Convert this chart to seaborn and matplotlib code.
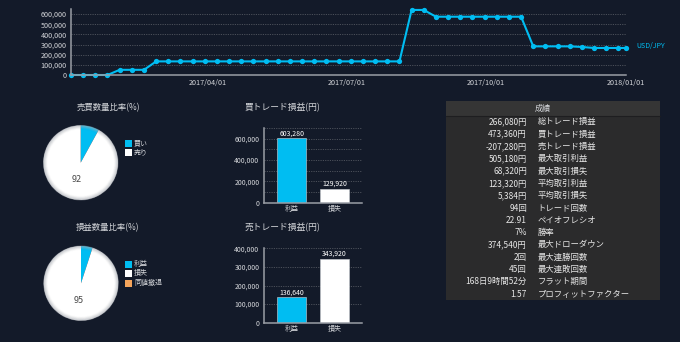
import numpy as np
import pandas as pd
import matplotlib
matplotlib.use('Agg')
import matplotlib.pyplot as plt
import matplotlib.dates as mdates
from matplotlib.ticker import FuncFormatter
from matplotlib.patches import Rectangle, Circle
import seaborn as sns

# ---------------- data ----------------
dates = ['2017-01-01', '2017-01-09', '2017-01-17', '2017-01-25', '2017-02-02', '2017-02-10',
         '2017-02-18', '2017-02-26', '2017-03-06', '2017-03-14', '2017-03-22', '2017-03-30',
         '2017-04-07', '2017-04-15', '2017-04-23', '2017-05-01', '2017-05-09', '2017-05-17',
         '2017-05-25', '2017-06-02', '2017-06-10', '2017-06-18', '2017-06-26', '2017-07-04',
         '2017-07-12', '2017-07-20', '2017-07-28', '2017-08-05', '2017-08-13', '2017-08-21',
         '2017-08-29', '2017-09-06', '2017-09-14', '2017-09-22', '2017-09-30', '2017-10-08',
         '2017-10-16', '2017-10-24', '2017-11-01', '2017-11-09', '2017-11-17', '2017-11-25',
         '2017-12-03', '2017-12-11', '2017-12-19', '2017-12-27', '2018-01-01']
equity = [0, 0, 0, 0, 51000, 51000, 51000,
          134000, 134000, 134000, 134000, 134000, 134000, 134000, 134000, 134000, 134000,
          134000, 134000, 134000, 134000, 134000, 134000, 134000, 134000, 134000, 134000, 134000,
          640620, 640620,
          574000, 574000, 574000, 574000, 574000, 574000, 574000, 574000,
          282000, 282000, 282000, 282000, 276000,
          266000, 266000, 266000, 266080]
series_name = 'USD/JPY'
date_ticks = ['2017-04-01', '2017-07-01', '2017-10-01', '2018-01-01']

pie1_title = '売買数量比率(%)'
pie1_labels = ['買い', '売り']
pie1_values = [8, 92]
pie2_title = '損益数量比率(%)'
pie2_labels = ['利益', '損失', '同値撤退']
pie2_values = [5, 95, 0]

bar_categories = ['利益', '損失']
bar1_title = '買トレード損益(円)'
bar1_values = [603280, 129920]
bar2_title = '売トレード損益(円)'
bar2_values = [136640, 343920]

table_header = '成績'
table_values = ['266,080円', '473,360円', '-207,280円', '505,180円', '68,320円', '123,320円',
                '5,384円', '94回', '22.91', '7%', '374,540円', '2回', '45回',
                '168日9時間52分', '1.57']
table_labels = ['総トレード損益', '買トレード損益', '売トレード損益', '最大取引利益', '最大取引損失',
                '平均取引利益', '平均取引損失', 'トレード回数', 'ペイオフレシオ', '勝率',
                '最大ドローダウン', '最大連勝回数', '最大連敗回数', 'フラット期間',
                'プロフィットファクター']

# ---------------- style ----------------
BG = '#131a29'
CYAN = '#00bdf2'
ORANGE = '#f5a55c'
AXC = '#9a9ea6'
TXT = '#d4d6da'
GRID = '#4b505a'

sns.set_theme(style='dark')
plt.rcParams['font.family'] = ['Noto Sans CJK JP', 'DejaVu Sans']
plt.rcParams['axes.unicode_minus'] = False

W, H = 680, 342
fig = plt.figure(figsize=(W / 100, H / 100), dpi=100, facecolor=BG)


def fx(px):
    return px / W


def fy(py):
    return 1 - py / H


def rect(l, t, r, b):
    return [fx(l), fy(b), fx(r) - fx(l), fy(t) - fy(b)]


comma = FuncFormatter(lambda v, p: f'{v:,.0f}')


def style_axes(ax):
    ax.set_facecolor(BG)
    for s in ['top', 'right']:
        ax.spines[s].set_visible(False)
    for s in ['left', 'bottom']:
        ax.spines[s].set_color(AXC)
        ax.spines[s].set_linewidth(1.1)
    ax.set_xlabel('')
    ax.set_ylabel('')


# ---------------- top line chart ----------------
ax = fig.add_axes(rect(71, 9, 626, 75))
style_axes(ax)
df_line = pd.DataFrame({'date': pd.to_datetime(dates), 'equity': equity})
sns.lineplot(data=df_line, x='date', y='equity', ax=ax, color=CYAN, linewidth=1.5,
             marker='o', markersize=3.8, markeredgewidth=0, clip_on=False)
ax.set_xlim(pd.Timestamp('2017-01-01'), pd.Timestamp('2018-01-01'))
ax.set_ylim(0, 650000)
ax.set_yticks(np.arange(0, 600001, 100000))
ax.yaxis.set_major_formatter(comma)
ax.set_xticks(pd.to_datetime(date_ticks))
ax.xaxis.set_major_formatter(mdates.DateFormatter('%Y/%m/%d'))
ax.tick_params(axis='y', colors=TXT, labelsize=5.2, length=0, pad=3)
ax.tick_params(axis='x', colors=TXT, labelsize=5.2, length=2.5, direction='in', pad=3, color=AXC)
ax.grid(False)
for v in np.arange(100000, 600001, 100000):
    ax.axhline(v, color=GRID, lw=0.7, ls=(0, (1.2, 1.2)), zorder=0)
ax.set_xlabel('')
ax.set_ylabel('')
fig.text(fx(636), fy(46), series_name, color=CYAN, fontsize=5, ha='left', va='center')


# ---------------- pies ----------------
def pie_panel(cx, cy, r, title, labels, values, colors, title_y, leg_y):
    axp = fig.add_axes(rect(cx - r, cy - r, cx + r, cy + r))
    axp.set_facecolor(BG)
    axp.pie(values, colors=colors, startangle=90, counterclock=False, radius=1,
            autopct=lambda p: f'{p:.0f}' if p > 50 else '', pctdistance=0.47,
            wedgeprops=dict(linewidth=0), textprops=dict(color='#4a4a4a', fontsize=6.5))
    n = 12
    for i in range(n):
        rr = 1 - i * 0.009
        axp.add_patch(Circle((0, 0), rr, fill=False, edgecolor='#a9adb4',
                             alpha=0.28 * (1 - i / n) ** 1.5, lw=0.8))
    axp.set_xlim(-1.02, 1.02)
    axp.set_ylim(-1.02, 1.02)
    axp.set_aspect('equal')
    axp.axis('off')
    fig.text(fx(108), fy(title_y), title, color=TXT, fontsize=6, ha='center', va='center')
    for i, (lab, col) in enumerate(zip(labels, colors)):
        y = leg_y + i * 9.5
        fig.patches.append(Rectangle((fx(125), fy(y + 3.5)), fx(7), 7 / H,
                                     transform=fig.transFigure, facecolor=col,
                                     edgecolor='none'))
        fig.text(fx(134), fy(y), lab, color=TXT, fontsize=5, ha='left', va='center')


pie_panel(80.7, 162.7, 38, pie1_title, pie1_labels, pie1_values, [CYAN, 'white'], 108, 143)
pie_panel(81, 283.3, 38, pie2_title, pie2_labels, pie2_values, [CYAN, 'white', ORANGE], 228, 264)


# ---------------- bars ----------------
def bar_panel(top, bottom, title, values, ymax, major, minor, title_y):
    axb = fig.add_axes(rect(264.3, top, 362, bottom))
    style_axes(axb)
    df = pd.DataFrame({'cat': bar_categories, 'val': values})
    sns.barplot(data=df, x='cat', y='val', hue='cat', palette=[CYAN, 'white'],
                width=0.68, legend=False, ax=axb, saturation=1, edgecolor='#cfd3d8',
                linewidth=0.4)
    axb.set_xlim(-0.65, 1.65)
    axb.set_ylim(0, ymax)
    axb.set_yticks(np.arange(0, ymax + 1, major))
    axb.yaxis.set_major_formatter(comma)
    axb.grid(False)
    for v in np.arange(minor, ymax + 1, minor):
        axb.axhline(v, color=GRID, lw=0.7, ls=(0, (1.2, 1.2)), zorder=0)
    for c in axb.containers:
        axb.bar_label(c, fmt='{:,.0f}', color='white', fontsize=5, padding=0.5)
    axb.tick_params(axis='y', colors=TXT, labelsize=5, length=2, pad=1.5, color=AXC)
    axb.tick_params(axis='x', colors=TXT, labelsize=5, length=0, pad=2)
    axb.set_xlabel('')
    axb.set_ylabel('')
    fig.text(fx(245), fy(title_y), title, color=TXT, fontsize=6.3, ha='left', va='center')


bar_panel(128, 202.7, bar1_title, bar1_values, 700000, 200000, 100000, 108)
bar_panel(248.3, 322.7, bar2_title, bar2_values, 400000, 100000, 100000, 228)

# ---------------- table ----------------
fig.patches.append(Rectangle((fx(446), fy(300)), fx(660) - fx(446), (300 - 101) / H,
                             transform=fig.transFigure, facecolor='#2b2b2c', edgecolor='none'))
fig.patches.append(Rectangle((fx(446), fy(115.5)), fx(660) - fx(446), (115.5 - 101) / H,
                             transform=fig.transFigure, facecolor='#353535', edgecolor='none'))
fig.add_artist(plt.Line2D([fx(446), fx(660)], [fy(115.8), fy(115.8)], color='#1e1e20', lw=0.8,
                          transform=fig.transFigure))
fig.text(fx(543), fy(108), table_header, color=TXT, fontsize=5.8, ha='center', va='center')
for i, (v, lab) in enumerate(zip(table_values, table_labels)):
    y = 122 + i * 12.3
    fig.text(fx(527), fy(y), v, color='#e6e6e6', fontsize=6, ha='right', va='center')
    fig.text(fx(537.5), fy(y), lab, color='#e6e6e6', fontsize=6, ha='left', va='center')

fig.savefig('out.png', dpi=100, facecolor=BG)
